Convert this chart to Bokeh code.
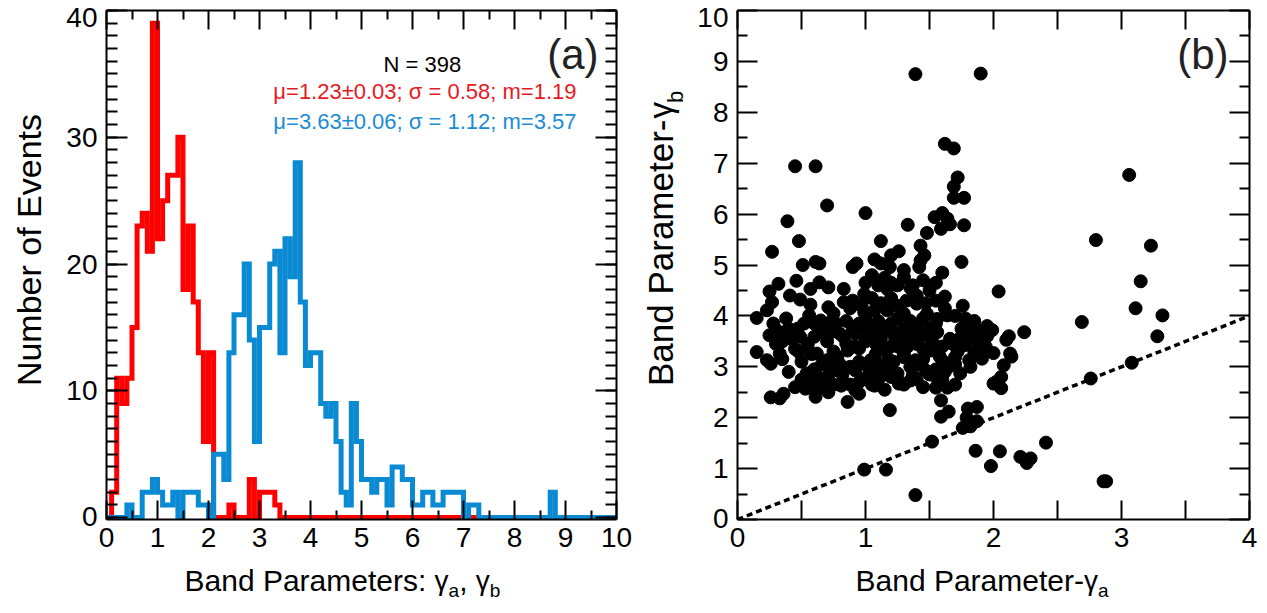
import math
from bokeh.plotting import figure
from bokeh.models import FixedTicker, LinearAxis, Label, Slope, Range1d, CustomJSTickFormatter
from bokeh.layouts import row, column
from bokeh.embed import file_html
from bokeh.resources import INLINE

FONT = "Liberation Sans"

# ---------------- data: panel (a) histograms, bin width 0.1 ----------------
bin_width = 0.1
gamma_a_counts = [0, 2, 11, 9, 11, 15, 23, 24, 21, 39,
                  22, 25, 27, 27, 30, 18, 23, 17, 13, 6,
                  13, 0, 0, 0, 1, 0, 0, 0, 3, 0,
                  2, 2, 2, 1, 0, 0, 0, 0, 0, 0,
                  0, 0, 0, 0, 0, 0, 0, 0, 0, 0,
                  0, 0, 0, 0, 0, 0, 0, 0, 0, 0,
                  0, 0, 0, 0, 0, 0, 0, 0, 0, 0,
                  0, 0, 0]
gamma_b_counts = [0, 0, 0, 0, 1, 0, 0, 2, 2, 3,
                  2, 1, 1, 2, 0, 2, 2, 2, 1, 1,
                  0, 5, 5, 3, 13, 16, 16, 20, 14, 6,
                  15, 15, 20, 21, 13, 22, 19, 28, 17, 12,
                  13, 13, 9, 8, 9, 6, 2, 1, 9, 6,
                  3, 3, 2, 3, 3, 1, 4, 4, 3, 3,
                  1, 1, 2, 2, 1, 1, 2, 2, 2, 2,
                  0, 1, 1, 0, 0, 0, 0, 0, 0, 0,
                  0, 0, 0, 0, 0, 0, 0, 2, 0, 0,
                  0, 0, 0, 0, 0, 0, 0, 0, 0, 0]

# ---------------- data: panel (b) scatter ----------------
gamma_a = [1.39, 1.90, 0.45, 0.61, 1.62, 1.69, 1.72, 1.69, 1.69, 1.77,
           0.70, 1.00, 0.39, 0.48, 0.27, 1.12, 1.33, 1.48, 1.54, 1.60,
           1.64, 1.59, 1.66, 1.77, 1.43, 1.46, 1.43, 1.26, 1.20, 1.07,
           1.12, 0.93, 0.90, 0.64, 0.61, 0.51, 1.75, 1.19, 1.42,
           0.32, 0.46, 0.25, 0.57, 0.64, 0.71, 0.83, 0.99, 1.10, 1.17,
           1.30, 1.37, 1.50, 1.62, 2.04,
           0.27, 0.41, 0.49, 0.57, 0.71, 0.83, 0.91,
           0.23, 0.15, 0.56, 0.65, 0.77, 0.99, 1.07, 1.17, 1.30, 1.40,
           1.48, 1.56, 1.64, 1.76, 1.80, 1.85, 1.99,
           0.25, 0.31, 0.38, 0.47, 0.49, 0.60, 0.73, 0.83, 0.92, 1.01,
           1.13, 1.23, 1.35, 1.46, 1.56, 1.66, 1.77, 1.87, 1.94,
           0.15, 0.23, 0.26, 0.33, 0.48, 0.54, 0.62, 0.70, 0.78, 0.86,
           0.95, 1.04, 1.16, 1.26, 1.30, 1.39, 1.51, 1.61, 1.70, 1.81,
           1.91,
           0.54, 0.63, 0.71, 0.78, 0.92, 1.01, 1.09, 1.25, 1.37, 1.47,
           1.74, 1.82, 2.00,
           0.53, 0.60, 0.65, 0.71, 0.81, 0.92, 0.95, 1.07, 1.26, 1.35,
           1.45, 1.55, 1.64,
           0.26, 0.33, 0.36, 0.61, 0.86, 1.59,
           1.19, 1.59, 1.65, 1.80, 1.87, 1.79, 1.87, 1.76, 1.82,
           1.52, 1.86, 2.05, 1.98, 0.99, 1.16, 1.39,
           3.15, 3.11, 3.32, 3.28, 2.69, 2.10, 2.12, 2.24, 2.00, 2.13,
           2.14, 2.08, 2.06, 2.02, 2.06, 2.76, 3.08, 2.21, 2.26, 2.29,
           2.41, 2.86, 2.88,
           3.06, 2.80, 3.23,
           0.85, 0.90, 0.95, 1.00, 1.05, 1.10, 1.15, 1.20, 1.25, 1.30,
           1.35, 1.40, 1.45, 1.50, 1.55,
           0.85, 0.92, 1.00, 1.08, 1.12, 1.20, 1.28, 1.33, 1.40, 1.45,
           1.52, 1.60, 1.68, 1.75,
           0.80, 0.88, 0.95, 1.02, 1.10, 1.18, 1.22, 1.35, 1.42, 1.55,
           1.65, 1.72, 1.85, 1.90,
           0.90, 0.97, 1.05, 1.12, 1.20, 1.25, 1.32, 1.40, 1.47, 1.55,
           1.62, 1.70, 1.78, 1.85, 1.95,
           0.60, 0.65, 0.70, 0.75, 0.55, 0.50, 0.45, 0.40, 0.35, 0.40,
           0.68, 0.60, 0.50, 0.45,
           1.00, 1.05, 1.15, 1.25, 1.30, 1.45, 0.95, 1.10, 1.15, 1.30,
           1.20, 1.60, 1.70, 1.50,
           0.30, 0.35, 0.42, 0.28, 0.38, 0.52, 0.58, 0.66, 0.73, 0.60,
           0.75, 0.88, 0.82, 1.05, 1.15, 1.25, 1.40, 1.55, 1.62, 1.70,
           1.75, 1.82, 1.90, 1.95, 1.35, 1.55, 1.60, 1.20, 0.88, 0.75,
           0.70, 0.80, 1.08, 1.18, 1.30, 1.45, 1.58, 1.25, 1.38, 1.05]
gamma_b = [8.75, 8.76, 6.94, 6.94, 7.38, 7.29, 6.72, 6.54, 6.32, 6.32,
           6.17, 6.02, 5.86, 5.47, 5.26, 5.47, 5.79, 5.63, 5.94, 6.02,
           5.91, 5.71, 5.80, 5.78, 5.38, 5.19, 5.09, 5.27, 5.19, 5.11,
           5.03, 5.03, 4.96, 5.03, 5.06, 5.00, 5.06, 4.96, 4.96,
           4.63, 4.69, 4.48, 4.53, 4.66, 4.56, 4.53, 4.43, 4.60, 4.53,
           4.76, 4.60, 4.50, 4.38, 4.48,
           4.27, 4.40, 4.32, 4.22, 4.17, 4.27, 4.24,
           4.11, 3.96, 4.01, 3.91, 3.85, 4.07, 4.11, 4.11, 4.04, 4.24,
           4.04, 3.94, 4.01, 4.20, 3.78, 3.75, 3.72,
           3.62, 3.71, 3.68, 3.75, 3.59, 3.59, 3.68, 3.58, 3.65, 3.72,
           3.75, 3.58, 3.58, 3.62, 3.68, 3.55, 3.42, 3.55, 3.39,
           3.29, 3.13, 3.06, 3.26, 3.29, 3.39, 3.26, 3.13, 3.19, 3.32,
           3.36, 3.13, 3.32, 3.39, 3.19, 3.13, 3.32, 3.10, 3.19, 3.13,
           3.16,
           2.87, 2.80, 2.83, 2.93, 2.93, 2.80, 2.87, 2.87, 2.83, 2.93,
           2.87, 3.00, 2.67,
           2.57, 2.70, 2.60, 2.50, 2.63, 2.54, 2.47, 2.63, 2.67, 2.73,
           2.60, 2.59, 2.59,
           2.40, 2.38, 2.47, 2.41, 2.31, 2.34,
           2.15, 2.02, 2.12, 2.18, 2.21, 2.00, 1.93, 1.80, 1.83,
           1.53, 1.35, 1.34, 1.05, 0.98, 0.98, 0.48,
           4.68, 4.15, 4.01, 3.60, 3.88, 3.53, 3.60, 3.68, 3.27, 3.26,
           3.20, 3.03, 2.80, 2.70, 2.58, 2.77, 3.08, 1.23, 1.11, 1.20,
           1.51, 0.75, 0.75,
           6.77, 5.49, 5.38,
           3.90, 3.75, 3.85, 3.95, 3.80, 3.90, 3.70, 3.85, 3.95, 3.75,
           3.90, 3.80, 3.95, 3.75, 3.85,
           3.45, 3.40, 3.50, 3.45, 3.55, 3.40, 3.50, 3.40, 3.45, 3.35,
           3.50, 3.40, 3.45, 3.60,
           3.05, 3.00, 3.10, 3.00, 3.05, 2.95, 3.10, 3.00, 3.05, 2.95,
           3.00, 3.30, 3.30, 3.45,
           4.30, 4.20, 4.35, 4.25, 4.35, 4.20, 4.30, 4.40, 4.25, 4.30,
           4.15, 4.00, 3.95, 3.90, 3.80,
           3.85, 3.70, 3.50, 3.30, 3.45, 3.10, 3.35, 2.90, 3.50, 3.75,
           2.75, 2.95, 2.75, 2.60,
           4.65, 4.80, 4.75, 4.60, 4.90, 4.70, 2.70, 2.75, 2.55, 2.65,
           2.80, 2.75, 2.65, 2.85,
           3.45, 3.15, 3.55, 3.85, 3.95, 3.85, 3.25, 3.05, 2.95, 2.55,
           2.65, 2.65, 2.85, 2.65, 2.85, 2.75, 2.75, 2.80, 2.90, 3.05,
           3.75, 3.55, 3.70, 3.60, 4.55, 4.65, 4.85, 4.65, 4.15, 4.05,
           3.85, 3.65, 3.25, 3.15, 3.25, 3.15, 3.20, 3.65, 3.70, 3.60]

n_events = 398
stats_a = "\u03bc=1.23\u00b10.03; \u03c3 = 0.58; m=1.19"
stats_b = "\u03bc=3.63\u00b10.06; \u03c3 = 1.12; m=3.57"

# ---------------- helpers ----------------
RED = "#ff0000"
BLUE = "#0a8ad2"
RED_TXT = "#e8191e"
BLUE_TXT = "#1a8cd6"

ARIAL = {'B': 667, 'a': 556, 'n': 556, 'd': 556, ' ': 278, 'P': 667, 'r': 333,
         'm': 833, 'e': 556, 't': 278, 's': 500, ':': 278, ',': 278, '-': 333,
         '\u03b3': 500, 'b': 556, 'N': 722, 'u': 556, 'o': 556, 'f': 278,
         'E': 667, 'v': 500}


def tw(s, size):
    return sum(ARIAL.get(c, 556) for c in s) / 1000.0 * size


BLANK = CustomJSTickFormatter(code="return '';")


def style_axis(ax, major_in, minor_in, labels=True):
    ax.axis_line_width = 2
    ax.axis_line_color = "black"
    ax.major_tick_in = major_in
    ax.major_tick_out = 0
    ax.minor_tick_in = minor_in
    ax.minor_tick_out = 0
    ax.major_tick_line_width = 2
    ax.minor_tick_line_width = 2
    ax.major_tick_line_color = "black"
    ax.minor_tick_line_color = "black"
    ax.major_label_text_font = FONT
    ax.major_label_text_color = "black"
    ax.major_label_text_font_size = "28px"
    if not labels:
        ax.formatter = BLANK
        ax.major_label_standoff = 0


def strip(width, height):
    s = figure(width=width, height=height, x_range=Range1d(0, width),
               y_range=Range1d(0, height), x_axis_type=None, y_axis_type=None,
               min_border=0, output_backend="svg", toolbar_location=None,
               background_fill_color="white", border_fill_color="white")
    s.outline_line_color = None
    s.xgrid.visible = False
    s.ygrid.visible = False
    return s


MID = 0.35        # em distance from alphabetic baseline to the middle baseline
ROT_FIX = 0.0625  # rotated centred labels drift along the reading direction by this x width


def add_pieces_h(p, pieces, x0, y0):
    pos = 0.0
    for text, size, dy in pieces:
        p.add_layout(Label(x=x0 + pos, y=y0 - dy, text=text, text_font=FONT,
                           text_font_size=f"{size}px", text_align="left",
                           text_baseline="alphabetic", text_color="black"))
        pos += tw(text, size)


def add_pieces_v(p, pieces, x_base, y_center):
    """rotated title, read bottom to top; x_base = baseline x, y_center = centre (strip coords)"""
    total = sum(tw(t, s) for t, s, _ in pieces)
    pos = y_center - total / 2.0
    for text, size, dy in pieces:
        w = tw(text, size)
        p.add_layout(Label(x=x_base + dy - MID * size, y=pos + w / 2.0 - ROT_FIX * w,
                           text=text, angle=math.pi / 2, text_font=FONT,
                           text_font_size=f"{size}px", text_align="center",
                           text_baseline="middle", text_color="black"))
        pos += w


W, H = 1267, 613
TOP_H = 561            # height of the row holding the two panels
F_BOTTOM = 519         # frame bottom (page pixels)
F1_LEFT, F2_LEFT = 106, 737
YS1_W, YS2_W = 55, 50  # widths of the strips that hold the y titles
BASE_FIX = 8           # Bokeh draws 'alphabetic' labels a little low

# ---------------- panel (a) ----------------
p1 = figure(frame_width=510, frame_height=509, min_border_left=F1_LEFT - YS1_W,
            min_border_right=24, min_border_top=10, min_border_bottom=TOP_H - F_BOTTOM,
            x_range=Range1d(0, 10), y_range=Range1d(-0.15, 40),
            output_backend="svg", toolbar_location=None,
            background_fill_color="white", border_fill_color="white")
p1.outline_line_color = None
p1.xgrid.visible = False
p1.ygrid.visible = False

xt1 = FixedTicker(ticks=list(range(0, 11)), minor_ticks=[i + 0.5 for i in range(10)])
yt1 = FixedTicker(ticks=[0, 10, 20, 30, 40], minor_ticks=list(range(0, 41)))
p1.xaxis.ticker = xt1
p1.yaxis.ticker = yt1
style_axis(p1.xaxis[0], 19, 9)
style_axis(p1.yaxis[0], 21, 11)
p1.xaxis[0].major_label_standoff = 8
p1.yaxis[0].major_label_standoff = 9
p1.yaxis[0].major_label_overrides = {40.0: "\n40", 0.0: "0\n"}
p1.yaxis[0].major_label_text_line_height = 0.05
top1 = LinearAxis(ticker=xt1)
style_axis(top1, 19, 9, labels=False)
p1.add_layout(top1, "above")
right1 = LinearAxis(ticker=yt1)
style_axis(right1, 21, 11, labels=False)
p1.add_layout(right1, "right")

edges_a = [bin_width * i for i in range(len(gamma_a_counts) + 1)]
edges_b = [bin_width * i for i in range(len(gamma_b_counts) + 1)]
p1.step(x=edges_a, y=gamma_a_counts + [gamma_a_counts[-1]], mode="after",
        line_color=RED, line_width=5, line_join="miter")
p1.step(x=edges_b, y=gamma_b_counts + [gamma_b_counts[-1]], mode="after",
        line_color=BLUE, line_width=5, line_join="miter")


def lab1(x_img, y_img, text, size, color, align="left", f_left=F1_LEFT):
    return Label(x=x_img - f_left, y=F_BOTTOM - y_img, x_units="screen", y_units="screen",
                 text=text, text_font=FONT, text_font_size=f"{size}px",
                 text_color=color, text_align=align, text_baseline="alphabetic")


p1.add_layout(lab1(383, 71 - 7, f"N = {n_events}", 22, "black"))
p1.add_layout(lab1(576, 99 - BASE_FIX, stats_a, 22, RED_TXT, "right"))
p1.add_layout(lab1(576, 129 - BASE_FIX, stats_b, 22, BLUE_TXT, "right"))
p1.add_layout(lab1(598, 66 - 12, "(a)", 42, "#222222", "right"))

# ---------------- panel (b) ----------------
p2 = figure(frame_width=512, frame_height=509, min_border_left=F2_LEFT - 640 - YS2_W,
            min_border_right=18, min_border_top=10, min_border_bottom=TOP_H - F_BOTTOM,
            x_range=Range1d(0, 4), y_range=Range1d(0, 10),
            output_backend="svg", toolbar_location=None,
            background_fill_color="white", border_fill_color="white")
p2.outline_line_color = None
p2.xgrid.visible = False
p2.ygrid.visible = False

xt2 = FixedTicker(ticks=[0, 1, 2, 3, 4], minor_ticks=[0.5, 1.5, 2.5, 3.5])
yt2 = FixedTicker(ticks=list(range(0, 11)), minor_ticks=[i + 0.5 for i in range(10)])
p2.xaxis.ticker = xt2
p2.yaxis.ticker = yt2
style_axis(p2.xaxis[0], 19, 19)
style_axis(p2.yaxis[0], 20, 10)
p2.xaxis[0].major_label_standoff = 8
p2.yaxis[0].major_label_standoff = 9
p2.yaxis[0].major_label_overrides = {10.0: "\n10", 0.0: "0\n"}
p2.yaxis[0].major_label_text_line_height = 0.05
top2 = LinearAxis(ticker=xt2)
style_axis(top2, 19, 19, labels=False)
p2.add_layout(top2, "above")
right2 = LinearAxis(ticker=yt2)
style_axis(right2, 20, 10, labels=False)
p2.add_layout(right2, "right")

p2.add_layout(Slope(gradient=1, y_intercept=0, line_color="black", line_width=3.5,
                    line_dash="6 4"))
p2.scatter(gamma_a, gamma_b, size=13, color="black")

p2.add_layout(lab1(1228, 66 - 12, "(b)", 42, "#222222", "right", f_left=F2_LEFT))

# ---------------- axis-title strips ----------------
ys1 = strip(YS1_W, TOP_H)
add_pieces_v(ys1, [("Number of Events", 34, 0)], 40, TOP_H - 264 + 17)
ys2 = strip(YS2_W, TOP_H)
add_pieces_v(ys2, [("Band Parameter-", 35, 0), ("\u03b3", 33, 0), ("b", 22, 11)],
             32, TOP_H - 236)

xs = strip(W, H - TOP_H)
add_pieces_h(xs, [("Band Parameters: ", 30, 0), ("\u03b3", 28, 0), ("a", 19, 10),
                  (", ", 30, 0), ("\u03b3", 28, 0), ("b", 19, 10)], 184, H - 580)
add_pieces_h(xs, [("Band Parameter-", 30, 0), ("\u03b3", 28, 0), ("a", 19, 10)],
             855, H - 580)

layout = column(row(ys1, p1, ys2, p2), xs)
open("out.html", "w").write(file_html(layout, INLINE))
